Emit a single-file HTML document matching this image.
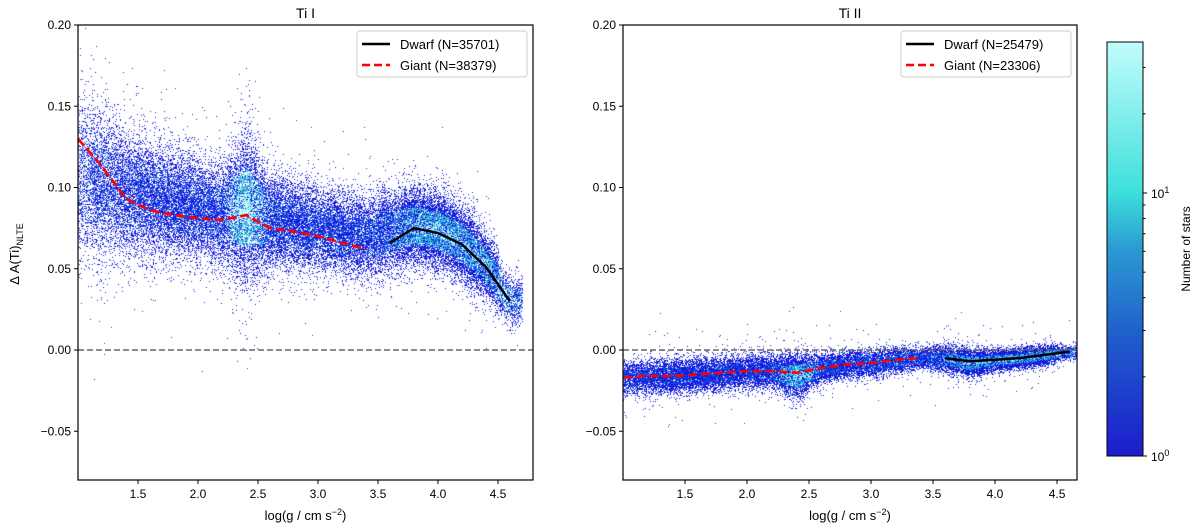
<!DOCTYPE html>
<html><head><meta charset="utf-8">
<style>
html,body{margin:0;padding:0;background:#fff;}
#wrap{position:relative;width:1200px;height:529px;overflow:hidden;font-family:"Liberation Sans","DejaVu Sans",sans-serif;}
canvas,svg{position:absolute;left:0;top:0;}
</style></head>
<body>
<div id="wrap">
<canvas id="cv" width="1200" height="529"></canvas>
<svg id="sv" width="1200" height="529" xmlns="http://www.w3.org/2000/svg">
<defs>
<linearGradient id="cbg" x1="0" y1="1" x2="0" y2="0">
<stop offset="0" stop-color="#1c1dcc"/>
<stop offset="0.3" stop-color="#2060cc"/>
<stop offset="0.5" stop-color="#2b9ad2"/>
<stop offset="0.64" stop-color="#3ee0dc"/>
<stop offset="1" stop-color="#c2fcfc"/>
</linearGradient>
</defs>
</svg>
</div>
<script>
// ---- data ----
const binX = [1.0,1.2,1.4,1.6,1.8,2.0,2.2,2.4,2.6,2.8,3.0,3.2,3.4,3.6,3.8,4.0,4.2,4.4,4.6];
const tiICenter = [0.108,0.102,0.097,0.093,0.090,0.087,0.084,0.088,0.080,0.078,0.075,0.072,0.070,0.073,0.077,0.074,0.066,0.052,0.030];
const tiISpread = [0.025,0.022,0.019,0.017,0.016,0.015,0.015,0.024,0.014,0.013,0.012,0.012,0.012,0.012,0.011,0.011,0.011,0.010,0.007];
const tiICount = [1400,2000,2200,2400,2400,2400,2400,3200,2600,2400,2200,2200,2200,2400,3200,3400,3000,2400,1000];
const tiICore = [0.0,0.0,0.0,0.0,0.0,0.02,0.08,0.8,0.1,0.03,0.03,0.03,0.05,0.15,0.5,0.6,0.5,0.4,0.35];
const tiIICenter = [-0.017,-0.016,-0.016,-0.015,-0.014,-0.013,-0.013,-0.016,-0.011,-0.009,-0.008,-0.006,-0.005,-0.005,-0.008,-0.006,-0.005,-0.003,-0.001];
const tiIISpread = [0.005,0.005,0.005,0.005,0.005,0.005,0.005,0.007,0.004,0.004,0.004,0.004,0.003,0.004,0.004,0.003,0.003,0.003,0.002];
const tiIICount = [1200,1500,1700,1700,1700,1700,1700,2400,1800,1600,1400,1400,1400,1800,2400,2400,2200,1900,800];
const tiIICore = [0.0,0.0,0.0,0.0,0.0,0.0,0.05,0.7,0.1,0.05,0.05,0.1,0.1,0.3,0.55,0.55,0.5,0.45,0.35];

const giantITi1X = [1.0,1.2,1.4,1.6,1.8,2.0,2.2,2.4,2.6,2.8,3.0,3.2,3.4];
const giantTi1Y = [0.130,0.113,0.093,0.086,0.083,0.081,0.080,0.083,0.075,0.073,0.070,0.066,0.062];
const dwarfTi1X = [3.6,3.8,4.0,4.2,4.4,4.6];
const dwarfTi1Y = [0.066,0.075,0.072,0.065,0.051,0.030];
const giantTi2X = [1.0,1.2,1.4,1.6,1.8,2.0,2.2,2.4,2.6,2.8,3.0,3.2,3.4];
const giantTi2Y = [-0.017,-0.016,-0.016,-0.015,-0.014,-0.013,-0.013,-0.014,-0.011,-0.009,-0.008,-0.006,-0.005];
const dwarfTi2X = [3.6,3.8,4.0,4.2,4.4,4.6];
const dwarfTi2Y = [-0.005,-0.007,-0.006,-0.005,-0.003,-0.001];

const xTicks = [1.5,2.0,2.5,3.0,3.5,4.0,4.5];
const yTicks = [-0.05,0.00,0.05,0.10,0.15,0.20];
const legend1 = ["Dwarf (N=35701)","Giant (N=38379)"];
const legend2 = ["Dwarf (N=25479)","Giant (N=23306)"];

// ---- axes ----
const panels = [
  {x0:78,x1:533,xmin:1.0,xmax:4.792,title:"Ti I",name:"ti-i"},
  {x0:623,x1:1077,xmin:1.0,xmax:4.661,title:"Ti II",name:"ti-ii"}
];
const Y0=25,Y1=480,YMIN=-0.08,YMAX=0.20;
function sx(p,v){return p.x0+(v-p.xmin)/(p.xmax-p.xmin)*(p.x1-p.x0);}
function sy(v){return Y1-(v-YMIN)/(YMAX-YMIN)*(Y1-Y0);}

// ---- scatter ----
let seed=12345;
function rnd(){seed=(seed*1664525+1013904223)>>>0;return seed/4294967296;}
function gauss(){let u=rnd()||1e-9,v=rnd();return Math.sqrt(-2*Math.log(u))*Math.cos(2*Math.PI*v);}
const ctx=document.getElementById('cv').getContext('2d');
function cloud(p,centers,spreads,counts,cores,outlierScale,outFrac){
  ctx.save();ctx.beginPath();ctx.rect(p.x0,Y0,p.x1-p.x0,Y1-Y0);ctx.clip();
  for(let b=0;b<binX.length;b++){
    for(let i=0;i<counts[b];i++){
      const t=rnd()-0.5;
      const xv=binX[b]+t*0.2;
      const nb=t<0?Math.max(b-1,0):Math.min(b+1,binX.length-1);
      const f=Math.abs(t);
      const c=centers[b]*(1-f)+centers[nb]*f;
      const s=spreads[b]*(1-f)+spreads[nb]*f;
      let z=gauss();
      if(rnd()<outFrac) z*=outlierScale;
      const yv=c+z*s;
      const px=sx(p,xv),py=sy(yv);
      const core=cores[b]*(1-f)+cores[nb]*f;
      let col;
      if(Math.abs(z)<1.0 && rnd()<core){
        const k=1-Math.abs(z);
        col=k>0.6?'rgba(140,240,238,1)':'rgba(55,195,220,1)';
      } else if(Math.abs(z)<1.2 && rnd()<0.3){
        col='rgba(35,100,225,0.95)';
      } else col='rgba(15,25,220,0.95)';
      ctx.fillStyle=col;ctx.fillRect(Math.round(px),Math.round(py),1,1);
    }
  }
  ctx.restore();
}
cloud(panels[0],tiICenter,tiISpread,tiICount,tiICore,2.0,0.03);
cloud(panels[1],tiIICenter,tiIISpread,tiIICount,tiIICore,3.0,0.015);

// ---- svg ----
const NS="http://www.w3.org/2000/svg";
const svg=document.getElementById('sv');
function mk(tag,attrs,parent){const e=document.createElementNS(NS,tag);for(const k in attrs)e.setAttribute(k,attrs[k]);(parent||svg).appendChild(e);return e;}

panels.forEach((p,pi)=>{
  const g=mk('g',{});
  
  
  const zl=mk('line',{x1:p.x0,x2:p.x1,y1:sy(0),y2:sy(0),stroke:'#666','stroke-width':1.5,'stroke-dasharray':'6,3'},g);
  
  
  const gx=pi==0?giantITi1X:giantTi2X, gy=pi==0?giantTi1Y:giantTi2Y;
  const dx=pi==0?dwarfTi1X:dwarfTi2X, dy=pi==0?dwarfTi1Y:dwarfTi2Y;
  const gl=mk('polyline',{points:gx.map((v,i)=>sx(p,v)+','+sy(gy[i])).join(' '),fill:'none',stroke:'#ff0000','stroke-width':2.6,'stroke-dasharray':'9,4'},g);
  
  
  const dl=mk('polyline',{points:dx.map((v,i)=>sx(p,v)+','+sy(dy[i])).join(' '),fill:'none',stroke:'#000','stroke-width':2.4},g);
  
  
  const fr=mk('rect',{x:p.x0,y:Y0,width:p.x1-p.x0,height:Y1-Y0,fill:'none',stroke:'#000','stroke-width':1.2},g);
  
  
  xTicks.forEach(t=>{
    if(t>p.xmax)return;
    const x=sx(p,t);
    mk('line',{x1:x,x2:x,y1:Y1,y2:Y1+4,stroke:'#000','stroke-width':1},g);
    const tx=mk('text',{x:x,y:Y1+18,'text-anchor':'middle','font-size':12,fill:'#000'},g);
    tx.textContent=t.toFixed(1);
    
    
  });
  yTicks.forEach(t=>{
    const y=sy(t);
    mk('line',{x1:p.x0-4,x2:p.x0,y1:y,y2:y,stroke:'#000','stroke-width':1},g);
    const tx=mk('text',{x:p.x0-7,y:y+4,'text-anchor':'end','font-size':12,fill:'#000'},g);
    tx.textContent=(t<0?'\u2212':'')+Math.abs(t).toFixed(2);
    
    
  });
  const ti=mk('text',{x:(p.x0+p.x1)/2,y:18,'text-anchor':'middle','font-size':14,fill:'#000'},g);
  ti.textContent=p.title;
  
  
  const xl=mk('text',{x:(p.x0+p.x1)/2,y:Y1+40,'text-anchor':'middle','font-size':13,fill:'#000'},g);
  xl.innerHTML='log(g / cm s<tspan dy="-5" font-size="9">\u22122</tspan><tspan dy="5">)</tspan>';
  
  
  const lg=mk('g',{},g);
  
  
  const lx=p.x1-176,ly=31;
  mk('rect',{x:lx,y:ly,width:170,height:46,rx:3,fill:'#fff',stroke:'#ccc','stroke-width':1,'fill-opacity':0.85},lg);
  const labs=pi==0?legend1:legend2;
  const e1=mk('g',{},lg);
  
  
  mk('line',{x1:lx+5,x2:lx+33,y1:ly+13,y2:ly+13,stroke:'#000','stroke-width':2.4},e1);
  const t1=mk('text',{x:lx+43,y:ly+18,'font-size':13,fill:'#000'},e1);t1.textContent=labs[0];
  const e2=mk('g',{},lg);
  
  
  mk('line',{x1:lx+5,x2:lx+33,y1:ly+34,y2:ly+34,stroke:'#f00','stroke-width':2.4,'stroke-dasharray':'8,4'},e2);
  const t2=mk('text',{x:lx+43,y:ly+39,'font-size':13,fill:'#000'},e2);t2.textContent=labs[1];
});
const yt=mk('text',{x:0,y:0,'text-anchor':'middle','font-size':13,fill:'#000',transform:'translate(19,254) rotate(-90)'});
yt.innerHTML='\u0394 A(Ti)<tspan dy="4" font-size="9">NLTE</tspan>';



const cbTicks = [1,2,3,4,5,6,7,8,9,10,20,30];
const CB={x:1107,w:36,top:42,bot:456,lmin:0,lmax:1.574};
function cby(v){return CB.bot-(Math.log10(v)-CB.lmin)/(CB.lmax-CB.lmin)*(CB.bot-CB.top);}
const cb=mk('g',{});


mk('rect',{x:CB.x,y:CB.top,width:CB.w,height:CB.bot-CB.top,fill:'url(#cbg)',stroke:'#000','stroke-width':1},cb);
cbTicks.forEach(v=>{
  const y=cby(v);const major=(v===1||v===10);
  mk('line',{x1:CB.x+CB.w,x2:CB.x+CB.w+(major?4:2.5),y1:y,y2:y,stroke:'#000','stroke-width':1},cb);
  if(major){
    const t=mk('text',{x:CB.x+CB.w+8,y:y+5,'font-size':12,fill:'#000'},cb);
    t.innerHTML='10<tspan dy="-5" font-size="9">'+(v===1?'0':'1')+'</tspan>';
    
    
  }
});
const cl=mk('text',{x:0,y:0,'text-anchor':'middle','font-size':12,fill:'#000',transform:'translate(1190,249) rotate(-90)'});
cl.textContent='Number of stars';


</script>
</body></html>
